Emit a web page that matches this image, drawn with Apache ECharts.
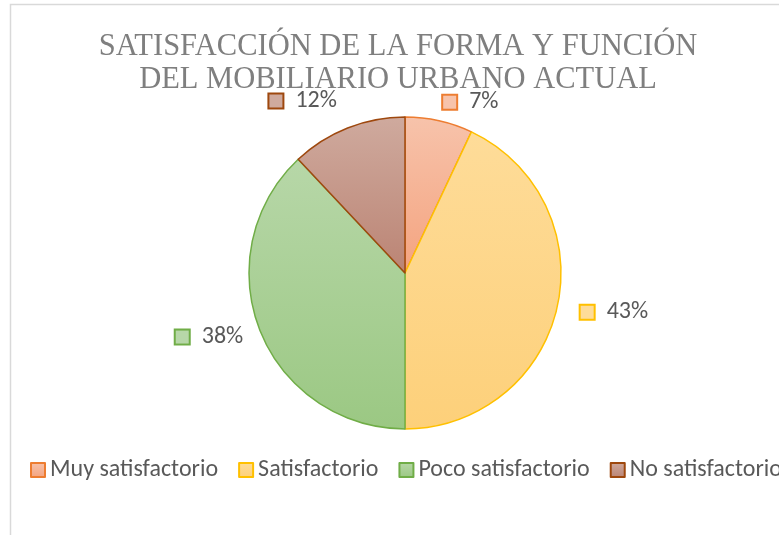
<!DOCTYPE html>
<html>
<head>
<meta charset="utf-8">
<script src="https://cdn.jsdelivr.net/npm/echarts@6/dist/echarts.min.js"></script>
<style>
    html, body { margin: 0; padding: 0; background: #fff; }
</style>
</head>
<body>
<div id="chart" style="width: 779px; height: 535px;"></div>
<script>
    // chart data
    const categories = ['Muy satisfactorio', 'Satisfactorio', 'Poco satisfactorio', 'No satisfactorio'];
    const values = [7, 43, 38, 12];

    // styles per slice
    const fillTop = ['#f7c3ab', '#fedc99', '#b7d7a8', '#cfaa9e'];
    const fillBottom = ['#f4a37f', '#fdd07a', '#9bc883', '#bb8474'];
    const borders = ['#ed7d31', '#ffc000', '#70ad47', '#9e480e'];
    const lineLen = [19, 24, 18, 29];

    const labelFont = "Carlito, 'Liberation Sans Narrow', 'Open Sans', sans-serif";

    const seriesData = categories.map((name, i) => ({
        name: name,
        value: values[i],
        itemStyle: {
            color: new echarts.graphic.LinearGradient(0, 0, 0, 1, [
                { offset: 0, color: fillTop[i] },
                { offset: 1, color: fillBottom[i] }
            ]),
            borderColor: borders[i],
            borderWidth: 1.5
        },
        labelLine: { length: lineLen[i], length2: 0 },
        label: {
            rich: {
                box: {
                    width: 13,
                    height: 13,
                    backgroundColor: fillTop[i],
                    borderColor: borders[i],
                    borderWidth: 2
                }
            }
        }
    }));

    const myChart = echarts.init(document.getElementById('chart'));

    const option = {
        animation: false,
        graphic: [{
            type: 'rect',
            shape: { x: 10.5, y: 4.5, width: 820, height: 600 },
            style: { fill: 'none', stroke: '#d9d9d9', lineWidth: 1.5 },
            silent: true
        }],
        title: {
            text: 'SATISFACCIÓN DE LA FORMA Y FUNCIÓN\nDEL MOBILIARIO URBANO ACTUAL',
            left: 393,
            textAlign: 'center',
            top: 25,
            textStyle: {
                fontFamily: "'Liberation Serif', 'Times New Roman', serif",
                fontSize: 30.5,
                fontWeight: 'normal',
                color: '#7f7f7f',
                lineHeight: 33
            }
        },
        legend: {
            left: 30,
            top: 458,
            width: 1000,
            padding: 0,
            itemWidth: 14,
            itemHeight: 14,
            itemGap: 20,
            icon: 'rect',
            itemStyle: { borderWidth: 2 },
            textStyle: {
                fontFamily: labelFont,
                fontSize: 24,
                color: '#595959'
            },
            data: categories
        },
        series: [{
            type: 'pie',
            center: [405, 273],
            radius: 156,
            startAngle: 90,
            clockwise: true,
            avoidLabelOverlap: false,
            label: {
                show: true,
                position: 'outside',
                distanceToLabelLine: 0,
                formatter: '{box|}{v|{c}%}',
                rich: {
                    v: {
                        fontFamily: labelFont,
                        fontSize: 24,
                        color: '#595959',
                        padding: [0, 0, 0, 13]
                    }
                }
            },
            labelLine: { show: false },
            emphasis: { disabled: true },
            data: seriesData
        }]
    };

    myChart.setOption(option);
</script>
</body>
</html>
